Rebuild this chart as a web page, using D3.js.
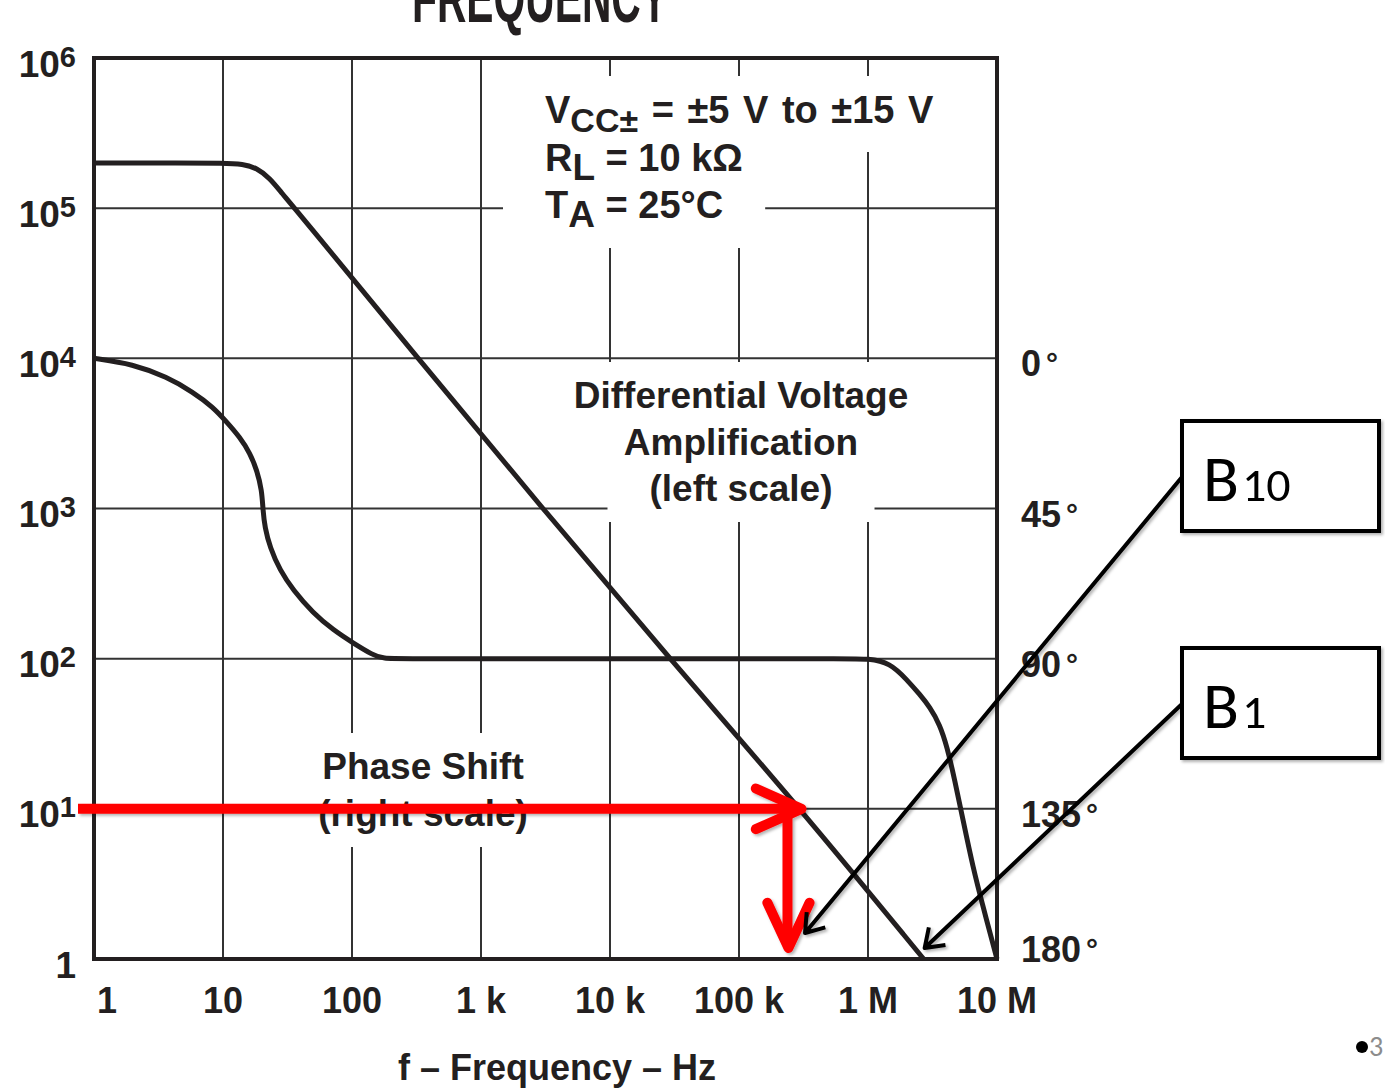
<!DOCTYPE html>
<html>
<head>
<meta charset="utf-8">
<script src="https://cdn.jsdelivr.net/npm/d3@7"></script>
<style>
  body { margin: 0; background: #fff; }
  svg { display: block; }
  text { font-family: "Liberation Sans", Arial, sans-serif; font-weight: bold; fill: #231f20; }
</style>
</head>
<body>
<svg id="chart" width="1385" height="1088"></svg>
<script>
// axis ticks
const freqTicks = [1, 10, 100, 1e3, 1e4, 1e5, 1e6, 1e7]
const freqLabels = ["1", "10", "100", "1 k", "10 k", "100 k", "1 M", "10 M"]
const gainTicks = [1, 10, 100, 1e3, 1e4, 1e5, 1e6]
const gainExps = ["", "1", "2", "3", "4", "5", "6"]
const phaseTicks = [0, 45, 90, 135, 180]

// differential voltage amplification (left scale)
const gainFreq = [1, 5, 10, 14.3, 18.3, 23, 29, 36, 325, 3000, 29000, 300000, 2.7e6]
const gainValue = [2e5, 2e5, 2e5, 1.97e5, 1.85e5, 1.59e5, 1.24e5, 1e5, 1e4, 1e3, 100, 10, 1]

// phase shift (right scale, degrees)
const phaseFreq = [1, 2.0, 3.68, 5.85, 8.37, 10.7, 13.5, 16.2, 18.3, 20.0, 20.4, 21.1, 23.1, 27.6,
  34.9, 49.8, 71.5, 102, 145, 174, 250, 1e3, 1e5, 7e5, 1e6, 1.48e6, 2.0e6, 2.53e6, 3.0e6, 3.61e6,
  4.1e6, 4.7e6, 5.45e6, 6.5e6, 7.8e6, 1e7]
const phaseDeg = [0, 1.7, 5.6, 10.1, 14.6, 19.1, 23.6, 28.4, 33.5, 39.5, 45.5, 50.6, 56.6, 63.5,
  69.4, 76.3, 81.4, 85.3, 88.9, 90, 90, 90, 90, 90, 90, 91.2, 96.3, 100.8, 104.4, 109.8,
  116.4, 126.3, 138.3, 152.4, 164.4, 180]

// annotations
const conditions = [["V", "CC±", " = ±5 V to ±15 V"], ["R", "L", " = 10 kΩ"], ["T", "A", " = 25°C"]]
const gainNote = ["Differential Voltage", "Amplification", "(left scale)"]
const phaseNote = ["Phase Shift", "(right scale)"]
const closedGain = [10, 1]
const bandwidth = [3.25e5, 2.75e6]
const boxLabels = ["10", "1"]

const svg = d3.select('#chart')
const ink = '#231f20'

const x = d3.scaleLog().domain([1, 1e7]).range([94, 997])
const y = d3.scaleLog().domain([1, 1e6]).range([959, 58])
const yPhase = d3.scaleLinear().domain([0, 180]).range([y(1e4), y(1)])

let defs = svg.append('defs')
let shadow = defs.append('filter').attr('id', 'shadow')
  .attr('x', '-20%').attr('y', '-20%').attr('width', '140%').attr('height', '140%')
shadow.append('feDropShadow')
  .attr('dx', 2).attr('dy', 2).attr('stdDeviation', 1.5)
  .attr('flood-color', '#000').attr('flood-opacity', 0.3)

let gridG = svg.append('g')
let knockG = svg.append('g')
let curveG = svg.append('g')
let textG = svg.append('g')
let annG = svg.append('g')

// grid
gridG.selectAll('line.v')
  .data(freqTicks.slice(1, -1))
  .enter()
  .append('line')
  .attr('x1', d => x(d)).attr('x2', d => x(d))
  .attr('y1', y(1e6)).attr('y2', y(1))
  .attr('stroke', '#333').attr('stroke-width', 2)

gridG.selectAll('line.h')
  .data(gainTicks.slice(1, -1))
  .enter()
  .append('line')
  .attr('x1', x(1)).attr('x2', x(1e7))
  .attr('y1', d => y(d)).attr('y2', d => y(d))
  .attr('stroke', '#333').attr('stroke-width', 2)

// frame
curveG.append('rect')
  .attr('x', x(1)).attr('y', y(1e6))
  .attr('width', x(1e7) - x(1)).attr('height', y(1) - y(1e6))
  .attr('fill', 'none').attr('stroke', ink).attr('stroke-width', 4)

// curves (b-spline keeps the flat parts flat and rounds the knees)
let line = d3.line().curve(d3.curveBasis)

curveG.append('path')
  .attr('d', line(gainFreq.map((f, i) => [x(f), y(gainValue[i])])))
  .attr('fill', 'none').attr('stroke', ink).attr('stroke-width', 5)

curveG.append('path')
  .attr('d', line(phaseFreq.map((f, i) => [x(f), yPhase(phaseDeg[i])])))
  .attr('fill', 'none').attr('stroke', ink).attr('stroke-width', 5)

// left scale labels
let leftLab = textG.selectAll('text.left')
  .data(gainTicks)
  .enter()
  .append('text')
  .attr('x', 76)
  .attr('y', d => y(d) + 18.5)
  .attr('text-anchor', 'end')
  .attr('font-size', 37)
leftLab.append('tspan').text((d, i) => i == 0 ? '1' : '10')
leftLab.filter((d, i) => i > 0).append('tspan')
  .attr('font-size', 29).attr('dy', -10)
  .text((d, i) => gainExps[i + 1])

// right scale labels
let rightLab = textG.selectAll('text.right')
  .data(phaseTicks)
  .enter()
  .append('text')
  .attr('x', 1021)
  .attr('y', d => Math.min(yPhase(d) + 18, 962))
  .attr('font-size', 36)
rightLab.append('tspan').text(d => d)
rightLab.append('tspan').attr('dx', 5).attr('font-size', 30).attr('dy', -2).text('°')

// bottom labels
textG.selectAll('text.bottom')
  .data(freqTicks)
  .enter()
  .append('text')
  .attr('x', (d, i) => i == 0 ? x(d) + 13 : x(d))
  .attr('y', 1013)
  .attr('text-anchor', 'middle')
  .attr('font-size', 36)
  .text((d, i) => freqLabels[i])

textG.append('text')
  .attr('x', 557).attr('y', 1080)
  .attr('text-anchor', 'middle')
  .attr('font-size', 36)
  .text('f – Frequency – Hz')

// title, mostly above the top edge as in the source crop
textG.append('text')
  .attr('x', 412).attr('y', 22)
  .attr('font-size', 70)
  .attr('textLength', 256)
  .attr('lengthAdjust', 'spacingAndGlyphs')
  .text('FREQUENCY')

// notes inside the plot
let knockLines = []

conditions.forEach((c, i) => {
  let t = textG.append('text')
    .attr('x', 545).attr('y', 123 + i * 47.5)
    .attr('font-size', 38)
    .attr('word-spacing', i == 0 ? 3 : 0)
  t.append('tspan').text(c[0])
  t.append('tspan').attr('dy', 9).attr('font-size', i == 0 ? 34 : 37).text(c[1])
  t.append('tspan').attr('dy', -9).text(c[2])
  knockLines.push(t)
})

gainNote.forEach((s, i) => {
  let t = textG.append('text')
    .attr('x', 741).attr('y', 408 + i * 46.5)
    .attr('text-anchor', 'middle')
    .attr('font-size', 37)
    .text(s)
  knockLines.push(t)
})

phaseNote.forEach((s, i) => {
  let t = textG.append('text')
    .attr('x', 423).attr('y', 779 + i * 47)
    .attr('text-anchor', 'middle')
    .attr('font-size', 37)
    .text(s)
  knockLines.push(t)
})

knockLines.forEach(t => {
  let b = t.node().getBBox()
  knockG.append('rect')
    .attr('x', b.x - 42).attr('y', b.y - 13)
    .attr('width', b.width + 84).attr('height', b.height + 26)
    .attr('fill', '#fff')
})

// arrows
function chevron(tx, ty, angle, len, spread) {
  let a1 = angle - spread, a2 = angle + spread
  return `M${tx + len * Math.cos(a1)},${ty + len * Math.sin(a1)}L${tx},${ty}L${tx + len * Math.cos(a2)},${ty + len * Math.sin(a2)}`
}

let deg = Math.PI / 180

// red reading arrow
let hitX = x(3.05e5)
let hitY = y(closedGain[0])
let redG = annG.append('g').attr('filter', 'url(#shadow)')
  .attr('stroke', '#ff0000').attr('stroke-width', 10)
  .attr('stroke-linecap', 'round').attr('stroke-linejoin', 'round').attr('fill', 'none')
redG.append('path').attr('d', `M78,${hitY}L${hitX - 4},${hitY}`).attr('stroke-linecap', 'butt')
redG.append('path').attr('d', chevron(hitX, hitY, 180 * deg, 50, 24 * deg))
redG.append('path').attr('d', `M${hitX - 14},${hitY}L${hitX - 14},${y(1) - 16}`).attr('stroke-linecap', 'butt')
redG.append('path').attr('d', chevron(hitX - 13, y(1) - 11, -90 * deg, 50, 25 * deg))

// bandwidth boxes
boxLabels.forEach((lab, i) => {
  let bx = 1182, by = i == 0 ? 421 : 648
  let tipX = x(bandwidth[i])
  let tipY = y(closedGain[i]) - (i == 0 ? 26 - y(1) + y(10) : 11)
  let g = annG.append('g').attr('filter', 'url(#shadow)')
  let sx = bx, sy = by + 56
  let ang = Math.atan2(sy - tipY, sx - tipX)
  g.append('path')
    .attr('d', `M${sx},${sy}L${tipX},${tipY}` + chevron(tipX, tipY, ang, 21, 35 * deg))
    .attr('fill', 'none').attr('stroke', '#000').attr('stroke-width', 4)
    .attr('stroke-linejoin', 'round')
  g.append('rect')
    .attr('x', bx).attr('y', by).attr('width', 197).attr('height', 110)
    .attr('fill', '#fff').attr('stroke', '#000').attr('stroke-width', 4)
  let t = g.append('text')
    .attr('x', 1203).attr('y', by + 80)
    .style('font-family', 'Carlito, Lato, sans-serif')
    .style('font-weight', 'normal')
    .style('fill', '#000')
    .attr('font-size', 66)
  t.append('tspan').text('B')
  t.append('tspan').attr('font-size', 48).attr('dx', 3).text(lab)
})

// slide number
annG.append('circle').attr('cx', 1362).attr('cy', 1047).attr('r', 6).attr('fill', '#000')
annG.append('text')
  .attr('x', 1369).attr('y', 1056)
  .style('font-family', 'Carlito, Lato, sans-serif')
  .style('font-weight', 'normal')
  .style('fill', '#8c8c8c')
  .attr('font-size', 28)
  .text('3')
</script>
</body>
</html>
